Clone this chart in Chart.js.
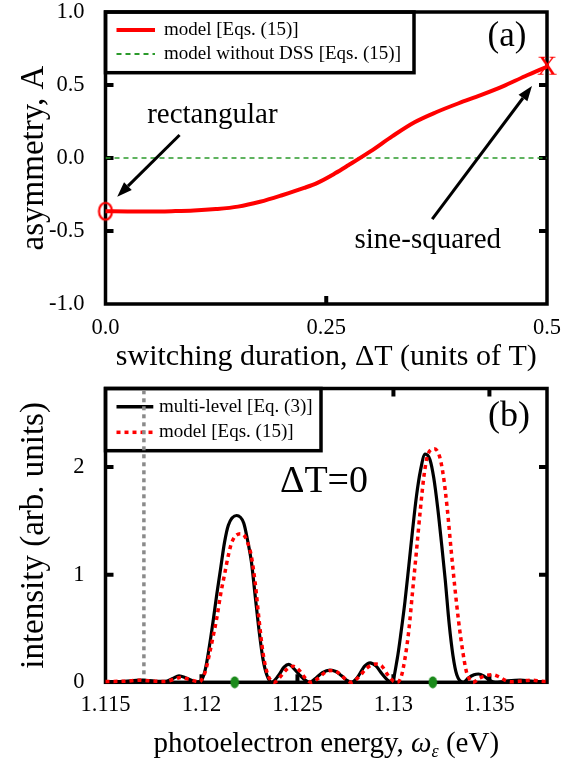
<!DOCTYPE html>
<html>
<head>
<meta charset="utf-8">
<script src="https://cdn.jsdelivr.net/npm/chart.js@4.4.0/dist/chart.umd.min.js"></script>
<style>
  body { margin: 0; background: #fff; }
  #wrap { position: relative; width: 575px; height: 763px; }
  canvas { position: absolute; left: 0; }
  #asymChart { top: 0; }
  #specChart { top: 380px; }
</style>
</head>
<body>
<div id="wrap">
  <canvas id="asymChart" width="575" height="380"></canvas>
  <canvas id="specChart" width="575" height="383"></canvas>
</div>
<script>
const SERIF = '"Liberation Serif", "Times New Roman", serif';

// ---- (a) asymmetry vs switching duration ----
const durations = [0, 0.025, 0.05, 0.075, 0.1, 0.125, 0.15, 0.175, 0.2, 0.225, 0.24,
  0.26, 0.275, 0.3, 0.325, 0.35, 0.375, 0.4, 0.425, 0.45, 0.475, 0.5];
const asymmetry = [-0.365, -0.366, -0.366, -0.364, -0.36, -0.35, -0.333, -0.3, -0.255, -0.205, -0.17,
  -0.105, -0.05, 0.045, 0.15, 0.245, 0.315, 0.375, 0.43, 0.49, 0.56, 0.625];
const noDssDurations = [0, 0.5];
const noDssAsymmetry = [0, 0];
const durTicks = [0, 0.25, 0.5];
const durTickLabels = ['0.0', '0.25', '0.5'];
const asymTicks = [-1, -0.5, 0, 0.5, 1];
const asymTickLabels = ['-1.0', '-0.5', '0.0', '0.5', '1.0'];

// ---- (b) photoelectron spectrum ----
const energyMulti = [
  1.115, 1.116, 1.1168, 1.1176, 1.1181, 1.1185, 1.11883, 1.1192, 1.1196, 1.1198,
  1.1200, 1.1202, 1.1204, 1.1206, 1.1208, 1.1210, 1.1212, 1.1214, 1.12183, 1.1222, 1.1224, 1.1226, 1.1228, 1.1230, 1.1232, 1.1234, 1.12365,
  1.1240, 1.1243, 1.12455, 1.1248, 1.1251, 1.1254, 1.12564,
  1.1259, 1.1263, 1.12669, 1.1270, 1.1273, 1.1276, 1.12782,
  1.1281, 1.1285, 1.12878, 1.1291, 1.1294, 1.1297, 1.12991,
  1.1302, 1.1304, 1.1306, 1.1308, 1.1310, 1.1312, 1.1314, 1.13165, 1.1319, 1.1321, 1.1323, 1.1325, 1.1327, 1.1329, 1.1331, 1.1333, 1.13364,
  1.1339, 1.1342, 1.13443, 1.1347, 1.1350, 1.1353, 1.1358, 1.1366, 1.1373, 1.138];
const intensityMulti = [
  0.005, 0.01, 0.02, 0.01, 0.008, 0.035, 0.06, 0.04, 0.01, 0.005,
  0.02, 0.12, 0.32, 0.56, 0.82, 1.06, 1.3, 1.46, 1.55, 1.48, 1.32, 1.12, 0.8, 0.48, 0.22, 0.07, 0,
  0.06, 0.14, 0.166, 0.13, 0.07, 0.02, 0,
  0.03, 0.09, 0.114, 0.1, 0.06, 0.015, 0,
  0.04, 0.15, 0.181, 0.15, 0.08, 0.02, 0,
  0.22, 0.47, 0.75, 1.08, 1.42, 1.73, 1.96, 2.12, 2.07, 1.9, 1.63, 1.3, 0.95, 0.55, 0.25, 0.07, 0,
  0.04, 0.07, 0.077, 0.06, 0.02, 0, 0.01, 0.02, 0.01, 0.005];
const energyModel = [
  1.115, 1.116, 1.1168, 1.1176, 1.1181, 1.1186, 1.1189, 1.1193, 1.1197, 1.1199,
  1.1200, 1.1202, 1.1204, 1.1206, 1.1208, 1.1210, 1.1212, 1.1214, 1.1216, 1.12202, 1.1222, 1.1224, 1.1226, 1.1228, 1.1230, 1.1232, 1.1234, 1.1236, 1.1238,
  1.1241, 1.1245, 1.12477, 1.1251, 1.1254, 1.1257,
  1.1261, 1.1265, 1.12686, 1.1272, 1.1275, 1.1278,
  1.1282, 1.1286, 1.1291, 1.1294, 1.1297, 1.1300, 1.1302,
  1.1304, 1.1306, 1.1308, 1.1310, 1.1312, 1.1314, 1.1316, 1.1318, 1.13213, 1.1324, 1.1326, 1.1328, 1.1330, 1.1332, 1.1334, 1.1336, 1.1338, 1.1340, 1.13415,
  1.1345, 1.1349, 1.13521, 1.1355, 1.1358, 1.1361, 1.1366, 1.1372, 1.1377, 1.138];
const intensityModel = [
  0.008, 0.01, 0.02, 0.01, 0.008, 0.03, 0.045, 0.03, 0.01, 0.005,
  0.02, 0.1, 0.25, 0.42, 0.6, 0.82, 1.0, 1.18, 1.31, 1.38, 1.37, 1.3, 1.17, 0.92, 0.58, 0.28, 0.1, 0.02, 0,
  0.05, 0.13, 0.15, 0.11, 0.04, 0,
  0.04, 0.1, 0.11, 0.08, 0.03, 0,
  0.05, 0.13, 0.17, 0.15, 0.07, 0.01, 0,
  0.05, 0.22, 0.48, 0.85, 1.22, 1.6, 1.93, 2.12, 2.17, 2.1, 1.92, 1.62, 1.24, 0.88, 0.56, 0.3, 0.1, 0.02, 0,
  0.04, 0.065, 0.07, 0.05, 0.02, 0.005, 0.01, 0.02, 0.01, 0.008];
const thresholdEnergy = [1.117, 1.117];
const thresholdLevel = [0, 2.73];
const peakEnergies = [1.12173, 1.13205];
const peakLevels = [0, 0];
const energyTicks = [1.115, 1.12, 1.125, 1.13, 1.135];
const energyTickLabels = ['1.115', '1.12', '1.125', '1.13', '1.135'];
const intensityTicks = [0, 1, 2];
const intensityTickLabels = ['0', '1', '2'];

function xy(xs, ys) {
  return xs.map((x, i) => ({ x: x, y: ys[i] }));
}

// small canvases used as point styles
function glyphMarker(w, h, draw) {
  const c = document.createElement('canvas');
  c.width = w; c.height = h;
  draw(c.getContext('2d'), w, h);
  return c;
}
const ringMarker = glyphMarker(18, 22, (g, w, h) => {
  g.strokeStyle = '#ff0000';
  g.lineWidth = 2.2;
  g.beginPath();
  g.ellipse(w / 2, h / 2, 6.5, 8.5, 0, 0, Math.PI * 2);
  g.stroke();
});
const crossMarker = glyphMarker(26, 26, (g, w, h) => {
  g.fillStyle = '#ff0000';
  g.font = '28px ' + SERIF;
  g.textAlign = 'center';
  g.textBaseline = 'middle';
  g.fillText('X', w / 2, h / 2 + 1);
});
const dotMarker = glyphMarker(10, 13, (g, w, h) => {
  g.fillStyle = '#1a8a1a';
  g.beginPath();
  g.ellipse(w / 2, h / 2, 4.3, 6, 0, 0, Math.PI * 2);
  g.fill();
});

function fixedTicks(values) {
  return scale => { scale.ticks = values.map(v => ({ value: v })); };
}

function arrow(ctx, x0, y0, x1, y1) {
  const ang = Math.atan2(y1 - y0, x1 - x0);
  const len = 15, half = 5.5;
  const bx = x1 - len * Math.cos(ang), by = y1 - len * Math.sin(ang);
  ctx.lineWidth = 3;
  ctx.beginPath();
  ctx.moveTo(x0, y0);
  ctx.lineTo(bx, by);
  ctx.stroke();
  ctx.beginPath();
  ctx.moveTo(x1, y1);
  ctx.lineTo(bx + half * Math.sin(ang), by - half * Math.cos(ang));
  ctx.lineTo(bx - half * Math.sin(ang), by + half * Math.cos(ang));
  ctx.closePath();
  ctx.fill();
}

// frame, inward ticks and the boxed legend, drawn under the curves
function framePlugin(legend) {
  return {
    id: 'frame',
    beforeDatasetsDraw(chart) {
      const ctx = chart.ctx, a = chart.chartArea;
      const sx = chart.scales.x, sy = chart.scales.y;
      ctx.save();
      ctx.strokeStyle = '#000';
      ctx.lineWidth = 4;
      ctx.beginPath();
      sx.ticks.forEach(t => {
        if (t.value <= sx.min || t.value >= sx.max) return;
        const p = sx.getPixelForValue(t.value);
        ctx.moveTo(p, a.top); ctx.lineTo(p, a.top + 8);
        ctx.moveTo(p, a.bottom); ctx.lineTo(p, a.bottom - 8);
      });
      sy.ticks.forEach(t => {
        if (t.value <= sy.min || t.value >= sy.max) return;
        const p = sy.getPixelForValue(t.value);
        ctx.moveTo(a.left, p); ctx.lineTo(a.left + 8, p);
        ctx.moveTo(a.right, p); ctx.lineTo(a.right - 8, p);
      });
      ctx.stroke();

      // legend box
      const L = a.left, T = a.top;
      ctx.fillStyle = '#fff';
      ctx.fillRect(L, T, legend.width, legend.height);
      ctx.lineWidth = 3.5;
      ctx.strokeRect(L, T, legend.width, legend.height);
      ctx.font = '19px ' + SERIF;
      ctx.textBaseline = 'middle';
      ctx.fillStyle = '#000';
      legend.items.forEach((it, i) => {
        const y = T + legend.rowY[i];
        ctx.strokeStyle = it.color;
        ctx.lineWidth = it.width;
        ctx.setLineDash(it.dash || []);
        ctx.beginPath();
        ctx.moveTo(L + 11, y);
        ctx.lineTo(L + legend.sampleEnd, y);
        ctx.stroke();
        ctx.setLineDash([]);
        ctx.fillText(it.label, L + legend.textX, y);
      });

      ctx.strokeStyle = '#000';
      ctx.lineWidth = 3.5;
      ctx.strokeRect(a.left, a.top, a.right - a.left, a.bottom - a.top);
      ctx.restore();
    }
  };
}

function axisScales(xMin, xMax, xTicks, xLabels, yMin, yMax, yTicks, yLabels, xHeight, xPad) {
  const tickFont = { family: SERIF, size: 22.5 };
  return {
    x: {
      type: 'linear', min: xMin, max: xMax,
      afterBuildTicks: fixedTicks(xTicks),
      afterFit: s => { s.height = xHeight; s.paddingLeft = 0; s.paddingRight = 0; },
      ticks: { callback: (v, i) => xLabels[i], font: tickFont, color: '#000', padding: xPad, maxRotation: 0, autoSkip: false },
      grid: { display: false }, border: { display: false }
    },
    y: {
      type: 'linear', min: yMin, max: yMax,
      afterBuildTicks: fixedTicks(yTicks),
      afterFit: s => { s.width = 105.5; s.paddingTop = 0; s.paddingBottom = 0; },
      ticks: { callback: (v, i) => yLabels[i], font: tickFont, color: '#000', padding: 13, autoSkip: false },
      grid: { display: false }, border: { display: false }
    }
  };
}

const common = {
  responsive: false,
  animation: false,
  events: [],
  plugins: { legend: { display: false }, tooltip: { enabled: false } },
  elements: { line: { borderCapStyle: 'butt' } }
};

// ---------- (a) ----------
new Chart(document.getElementById('asymChart'), {
  type: 'line',
  data: {
    datasets: [
      { data: xy(durations, asymmetry), borderColor: '#ff0000', borderWidth: 4, pointRadius: 0,
        cubicInterpolationMode: 'monotone', clip: false, order: 1 },
      { data: xy(noDssDurations, noDssAsymmetry), borderColor: '#2b9a2b', borderWidth: 1.6,
        borderDash: [5, 4], pointRadius: 0, order: 2 },
      { data: [{ x: durations[0], y: asymmetry[0] }], showLine: false, pointStyle: ringMarker,
        pointRadius: 9, clip: false, order: 0 },
      { data: [{ x: durations[durations.length - 1], y: asymmetry[asymmetry.length - 1] }], showLine: false,
        pointStyle: crossMarker, pointRadius: 9, clip: false, order: 0 }
    ]
  },
  options: Object.assign({}, common, {
    layout: { padding: { left: 0, top: 12, right: 28, bottom: 0 } },
    scales: axisScales(0, 0.5, durTicks, durTickLabels, -1, 1, asymTicks, asymTickLabels, 76, 2.5)
  }),
  plugins: [
    framePlugin({
      width: 308.5, height: 60.7, rowY: [18, 42], sampleEnd: 49.5, textX: 58.5,
      items: [
        { label: 'model [Eqs. (15)]', color: '#ff0000', width: 4 },
        { label: 'model without DSS [Eqs. (15)]', color: '#2b9a2b', width: 1.8, dash: [5, 4] }
      ]
    }),
    {
      id: 'notesA',
      afterDraw(chart) {
        const ctx = chart.ctx, a = chart.chartArea;
        const sx = chart.scales.x, sy = chart.scales.y;
        const X = v => sx.getPixelForValue(v), Y = v => sy.getPixelForValue(v);
        ctx.save();
        ctx.fillStyle = '#000';
        ctx.strokeStyle = '#000';
        arrow(ctx, X(0.0839), Y(0.1575), X(0.0133), Y(-0.265));
        arrow(ctx, X(0.370), Y(-0.418), X(0.483), Y(0.493));
        ctx.textAlign = 'center';
        ctx.textBaseline = 'middle';
        ctx.font = '29px ' + SERIF;
        ctx.fillText('rectangular', X(0.121), Y(0.295));
        ctx.fillText('sine-squared', X(0.365), Y(-0.562));
        ctx.font = '35px ' + SERIF;
        ctx.fillText('(a)', a.right - 40, a.top + 25);
        ctx.font = '30px ' + SERIF;
        ctx.fillText('switching duration, \u0394T (units of T)', (a.left + a.right) / 2, 357);
        ctx.translate(34, (a.top + a.bottom) / 2);
        ctx.rotate(-Math.PI / 2);
        ctx.font = '33px ' + SERIF;
        ctx.fillText('asymmetry, A', 0, 0);
        ctx.restore();
      }
    }
  ]
});

// ---------- (b) ----------
new Chart(document.getElementById('specChart'), {
  type: 'line',
  data: {
    datasets: [
      { data: xy(peakEnergies, peakLevels), showLine: false, pointStyle: dotMarker, pointRadius: 6,
        clip: false, order: 0 },
      { data: xy(energyModel, intensityModel), borderColor: '#ff0000', borderWidth: 3.5, borderDash: [4, 4],
        pointRadius: 0, cubicInterpolationMode: 'monotone', clip: false, order: 1 },
      { data: xy(energyMulti, intensityMulti), borderColor: '#000', borderWidth: 3.2, pointRadius: 0,
        cubicInterpolationMode: 'monotone', clip: false, order: 2 },
      { data: xy(thresholdEnergy, thresholdLevel), borderColor: '#8a8a8a', borderWidth: 3.5,
        borderDash: [4, 4], pointRadius: 0, order: 3 }
    ]
  },
  options: Object.assign({}, common, {
    layout: { padding: { left: 0, top: 8.5, right: 28, bottom: 0 } },
    scales: axisScales(1.115, 1.138, energyTicks, energyTickLabels, 0, 2.73, intensityTicks, intensityTickLabels, 80.7, 1.7)
  }),
  plugins: [
    framePlugin({
      width: 215.5, height: 62.2, rowY: [18.2, 43.8], sampleEnd: 47.8, textX: 53.5,
      items: [
        { label: 'multi-level [Eq. (3)]', color: '#000', width: 3.5 },
        { label: 'model [Eqs. (15)]', color: '#ff0000', width: 3.5, dash: [4, 4] }
      ]
    }),
    {
      id: 'notesB',
      afterDraw(chart) {
        const ctx = chart.ctx, a = chart.chartArea;
        ctx.save();
        ctx.fillStyle = '#000';
        ctx.textBaseline = 'middle';
        ctx.textAlign = 'center';
        ctx.font = '36px ' + SERIF;
        ctx.fillText('(b)', a.right - 38, a.top + 28);
        ctx.font = '38px ' + SERIF;
        ctx.fillText('\u0394T=0', 324, 102);

        // x title with subscripted omega
        const parts = [
          { t: 'photoelectron energy, ', f: '29px ' + SERIF, dy: 0 },
          { t: '\u03c9', f: 'italic 29px ' + SERIF, dy: 0 },
          { t: '\u03b5', f: 'italic 18px ' + SERIF, dy: 8 },
          { t: ' (eV)', f: '29px ' + SERIF, dy: 0 }
        ];
        let total = 0;
        parts.forEach(p => { ctx.font = p.f; p.w = ctx.measureText(p.t).width; total += p.w; });
        let x = (a.left + a.right) / 2 - total / 2;
        ctx.textAlign = 'left';
        parts.forEach(p => { ctx.font = p.f; ctx.fillText(p.t, x, 364 + p.dy); x += p.w; });

        ctx.textAlign = 'center';
        ctx.translate(34, (a.top + a.bottom) / 2);
        ctx.rotate(-Math.PI / 2);
        ctx.font = '33px ' + SERIF;
        ctx.fillText('intensity (arb. units)', 0, 0);
        ctx.restore();
      }
    }
  ]
});
</script>
</body>
</html>
